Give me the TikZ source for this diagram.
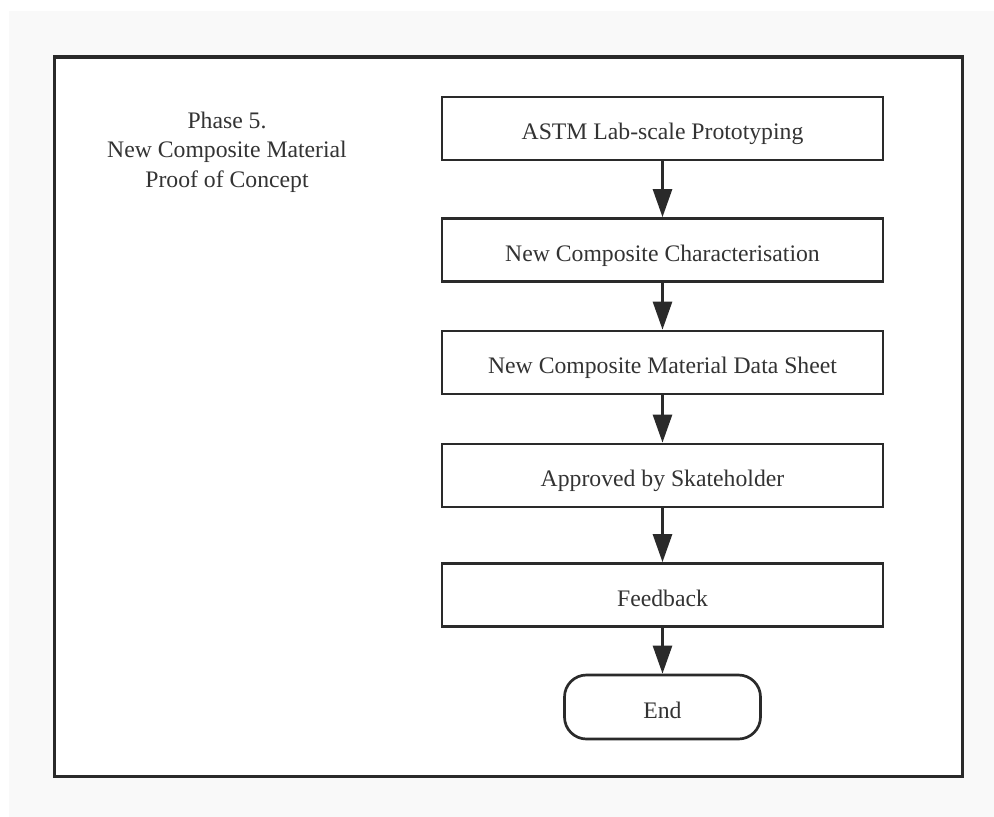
\documentclass[tikz,border=0pt]{standalone}
\usepackage{fontspec}
\setmainfont{Liberation Serif}
\usetikzlibrary{arrows.meta}
\definecolor{ink}{HTML}{2A2A2A}
\definecolor{txt}{HTML}{333333}
\definecolor{bg}{HTML}{F9F9F9}
\begin{document}
\begin{tikzpicture}[x=1pt,y=-1pt,
  boxtext/.style={font=\fontsize{23.7}{28}\selectfont,text=txt,text height=22pt,text depth=0pt},
  stepbox/.style={boxtext,draw=ink,line width=2.7pt,fill=white,minimum width=441pt,minimum height=63pt,inner sep=0pt},
  endbox/.style={boxtext,draw=ink,line width=2.7pt,fill=white,minimum width=196pt,minimum height=64pt,rounded corners=22pt,inner sep=0pt},
  flow/.style={draw=ink,line width=2.7pt,-{Triangle[width=19pt,length=28pt]}}]
\useasboundingbox (0,0) rectangle (994,817);
\fill[white] (0,0) rectangle (994,817);
\fill[bg] (9,11) rectangle (994,817);
\draw[ink,line width=3.5pt,fill=white] (54.5,57) rectangle (962.5,776.5);
\node[font=\fontsize{23.7}{29.2}\selectfont,text=txt,align=center,anchor=north,inner sep=0pt] (title) at (227,112)
  {Phase 5.\\New Composite Material\\Proof of Concept};
\node[stepbox] (s1) at (662.5,128.5) {ASTM Lab-scale Prototyping};
\node[stepbox] (s2) at (662.5,250) {New Composite Characterisation};
\node[stepbox] (s3) at (662.5,362.5) {New Composite Material Data Sheet};
\node[stepbox] (s4) at (662.5,475.5) {Approved by Skateholder};
\node[stepbox] (s5) at (662.5,595) {Feedback};
\node[endbox] (e) at (662.5,707) {End};
\draw[flow] (s1.south) -- (s2.north);
\draw[flow] (s2.south) -- (s3.north);
\draw[flow] (s3.south) -- (s4.north);
\draw[flow] (s4.south) -- (s5.north);
\draw[flow] (s5.south) -- (e.north);
\end{tikzpicture}
\end{document}
